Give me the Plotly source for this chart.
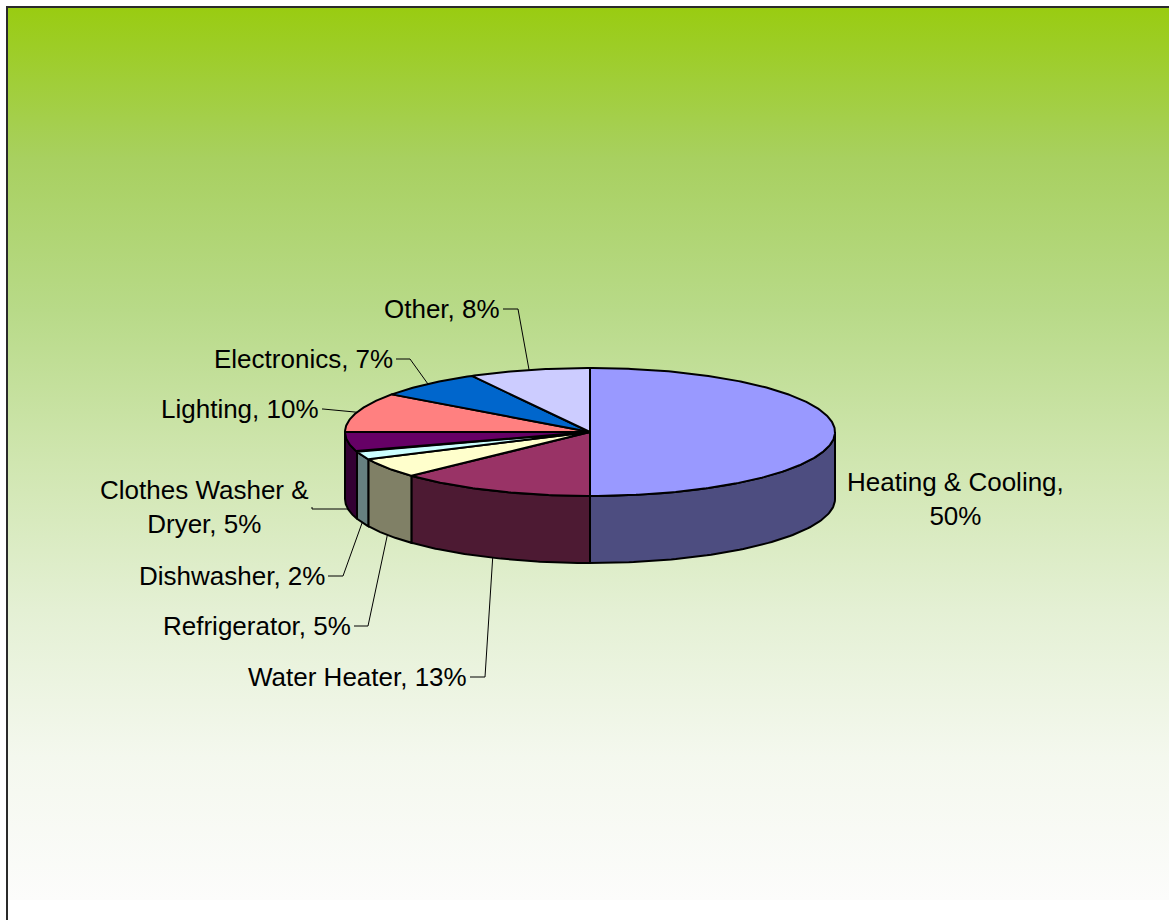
import numpy as np
import plotly.graph_objects as go

# ---------------- data ----------------
labels = ["Heating & Cooling", "Water Heater", "Refrigerator", "Dishwasher",
          "Clothes Washer & Dryer", "Lighting", "Electronics", "Other"]
values = [50, 13, 5, 2, 5, 10, 7, 8]
label_texts = ["Heating & Cooling,<br>50%", "Water Heater, 13%", "Refrigerator, 5%",
               "Dishwasher, 2%", "Clothes Washer &<br>Dryer, 5%", "Lighting, 10%",
               "Electronics, 7%", "Other, 8%"]
top_colors = ["#9999FF", "#993366", "#FFFFCC", "#CCFFFF", "#660066", "#FF8080", "#0066CC", "#CCCCFF"]
side_colors = ["#4D4D80", "#4D1A33", "#808066", "#668080", "#330033", "#804040", "#003366", "#666680"]

# ---------------- layout / geometry (pixel space) ----------------
W, H = 1169, 920
CX, CY, RX, RY, DEPTH = 590, 432, 245, 64, 67
# label placement: (text x, text y, xanchor, elbow point or None)
label_pos = {
    "Heating & Cooling": (845, 499, "left", None),
    "Water Heater": (469, 677, "right", (485, 677)),
    "Refrigerator": (353, 626, "right", (368, 626)),
    "Dishwasher": (327, 576, "right", (343, 576)),
    "Clothes Washer & Dryer": (311, 507, "right", (312, 509)),
    "Lighting": (321, 409, "right", (323, 409)),
    "Electronics": (395, 359, "right", (410, 359)),
    "Other": (502, 309, "right", (518, 309)),
}
FONT = dict(family="Liberation Sans, Arial, sans-serif", size=26, color="black")

fig = go.Figure()

# background gradient
fig.add_trace(go.Scatter(
    x=[7, W + 10, W + 10, 7, 7], y=[7, 7, 900, 900, 7], mode="lines",
    line=dict(width=0), fill="toself", hoverinfo="skip", showlegend=False,
    fillgradient=dict(type="vertical", start=7, stop=900,
                      colorscale=[[0, "#99CC11"], [0.17, "#A8D060"], [0.34, "#B8DA88"],
                                  [0.51, "#D0E6B0"], [0.675, "#E4F0D4"], [0.84, "#F4F8EE"],
                                  [1, "#FCFCFB"]]),
))


def pt(theta_deg, dy=0.0):
    t = np.radians(theta_deg)
    return CX + RX * np.cos(t), CY - RY * np.sin(t) + dy


total = float(sum(values))
cum = np.concatenate([[0], np.cumsum(values)]) / total
starts = 90 - 360 * cum[:-1]
ends = 90 - 360 * cum[1:]

# side faces (front half only)
for i in range(len(values)):
    a0, a1 = starts[i], ends[i]
    for lo, hi in [(-180, 0), (-540, -360)]:
        s = min(a0, hi)
        e = max(a1, lo)
        if s - e > 0.01:
            th = np.linspace(s, e, 80)
            xt, yt = pt(th)
            xb, yb = pt(th[::-1], DEPTH)
            xs = np.concatenate([xt, xb, xt[:1]])
            ys = np.concatenate([yt, yb, yt[:1]])
            fig.add_trace(go.Scatter(x=xs, y=ys, mode="lines", fill="toself",
                                     fillcolor=side_colors[i], line=dict(color="black", width=2),
                                     hoverinfo="skip", showlegend=False))

# top faces
for i in range(len(values)):
    th = np.linspace(starts[i], ends[i], max(10, int(values[i] * 6)))
    xa, ya = pt(th)
    xs = np.concatenate([[CX], xa, [CX]])
    ys = np.concatenate([[CY], ya, [CY]])
    fig.add_trace(go.Scatter(x=xs, y=ys, mode="lines", fill="toself",
                             fillcolor=top_colors[i], line=dict(color="black", width=2),
                             hoverinfo="skip", showlegend=False))

# labels + leader lines
annotations = []
for i, lab in enumerate(labels):
    tx, ty, anchor, elbow = label_pos[lab]
    annotations.append(dict(x=tx, y=ty, xref="x", yref="y", text=label_texts[i],
                            showarrow=False, xanchor=anchor, yanchor="middle",
                            align="center", font=FONT))
    if elbow is not None:
        mid = (starts[i] + ends[i]) / 2
        front = np.sin(np.radians(mid)) < 0
        px, py = pt(mid, DEPTH if front else 0)
        fig.add_trace(go.Scatter(x=[tx + 1, elbow[0], px], y=[ty, elbow[1], py], mode="lines",
                                 line=dict(color="black", width=1), hoverinfo="skip",
                                 showlegend=False))

fig.update_layout(
    width=W, height=H, margin=dict(l=0, r=0, t=0, b=0),
    paper_bgcolor="white", plot_bgcolor="white",
    xaxis=dict(range=[0, W], visible=False, fixedrange=True),
    yaxis=dict(range=[H, 0], visible=False, fixedrange=True),
    annotations=annotations,
    shapes=[dict(type="line", x0=7, x1=7, y0=6, y1=H + 5, xref="x", yref="y",
                 line=dict(color="#2A2A2A", width=2)),
            dict(type="line", x0=6, x1=W + 5, y0=7, y1=7, xref="x", yref="y",
                 line=dict(color="#2A2A2A", width=2))],
    showlegend=False,
)

fig.write_html("out.html", config={"displayModeBar": False},
               post_script="document.body.style.margin='0px';document.body.style.overflow='hidden';")
